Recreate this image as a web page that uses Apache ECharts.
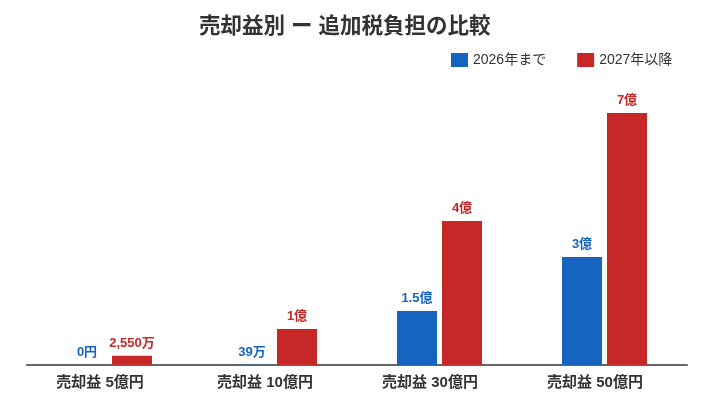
<!DOCTYPE html>
<html>
<head>
<meta charset="utf-8">
<script src="https://cdn.jsdelivr.net/npm/echarts@6/dist/echarts.min.js"></script>
<style>
  html, body { margin: 0; padding: 0; background: #fff; }
  #main { width: 722px; height: 411px; }
</style>
</head>
<body>
<div id="main"></div>
<script>
// values in 億円
var categories = ['売却益 5億円', '売却益 10億円', '売却益 30億円', '売却益 50億円'];
var until2026 = [0, 0.0039, 1.5, 3];
var from2027 = [0.255, 1, 4, 7];
var until2026Labels = ['0円', '39万', '1.5億', '3億'];
var from2027Labels = ['2,550万', '1億', '4億', '7億'];

var font = '"Liberation Sans", "Noto Sans CJK JP", sans-serif';
var blue = '#1565C0';
var red = '#C62828';

var myChart = echarts.init(document.getElementById('main'));

myChart.setOption({
    animation: false,
    textStyle: { fontFamily: font },
    title: {
        text: '売却益別 ー 追加税負担の比較',
        left: 194,
        top: 11,
        textStyle: { fontSize: 21.5, fontWeight: 'bold', color: '#333', fontFamily: font }
    },
    legend: {
        data: ['2026年まで', '2027年以降'],
        left: 446,
        top: 48,
        icon: 'rect',
        itemWidth: 17,
        itemHeight: 14,
        itemGap: 31,
        textStyle: { fontSize: 14, color: '#333', fontFamily: font }
    },
    grid: { left: 27, right: 35, top: 77, bottom: 46 },
    xAxis: {
        type: 'category',
        data: categories,
        axisLine: { lineStyle: { color: '#666', width: 2 } },
        axisTick: { show: false },
        axisLabel: {
            margin: 10,
            padding: [0, 19, 0, 0],
            fontSize: 15,
            fontWeight: 'bold',
            color: '#333',
            fontFamily: font
        }
    },
    yAxis: {
        type: 'value',
        min: 0,
        max: 8,
        show: false
    },
    series: [{
        name: '2026年まで',
        type: 'bar',
        data: until2026,
        barWidth: 40,
        barGap: '12.5%',
        itemStyle: { color: blue },
        label: {
            show: true,
            position: 'top',
            distance: 6,
            fontSize: 13,
            fontWeight: 'bold',
            color: blue,
            fontFamily: font,
            formatter: function (p) { return until2026Labels[p.dataIndex]; }
        }
    }, {
        name: '2027年以降',
        type: 'bar',
        data: from2027,
        barWidth: 40,
        itemStyle: { color: red },
        label: {
            show: true,
            position: 'top',
            distance: 6,
            fontSize: 13,
            fontWeight: 'bold',
            color: red,
            fontFamily: font,
            formatter: function (p) { return from2027Labels[p.dataIndex]; }
        }
    }]
});
</script>
</body>
</html>
